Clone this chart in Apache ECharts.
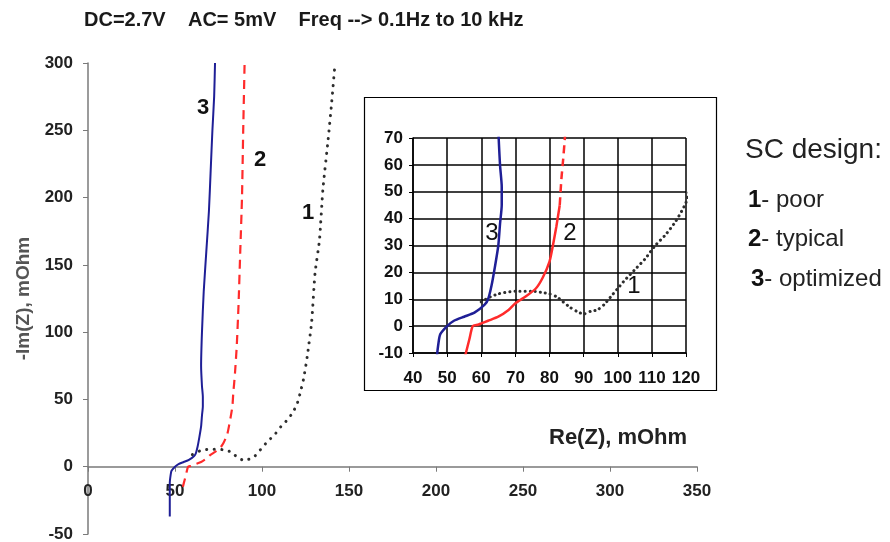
<!DOCTYPE html>
<html>
<head>
<meta charset="utf-8">
<script src="https://cdn.jsdelivr.net/npm/echarts@6/dist/echarts.min.js"></script>
<style>
  html, body { margin: 0; padding: 0; background: #fff; overflow: hidden; }
  #chart { width: 890px; height: 542px; }
</style>
</head>
<body>
<div id="chart"></div>
<script>
// ---------- DATA ----------
// Curve 3 (optimized) — Re(Z), -Im(Z) in mOhm
const reC3 = [47, 47, 47, 47.5, 48, 50, 52, 55, 58, 61, 62, 63, 64, 65, 65.5, 66, 66, 65.5, 65, 65.5, 66.5, 68, 69.5, 70.5, 71.5, 72.5, 73];
const imC3 = [-37, -25, -12, -6, -3, 0, 2, 3.5, 5, 8, 10, 15, 22, 30, 38, 45, 52, 60, 75, 100, 130, 160, 190, 220, 250, 275, 300];
// Curve 2 (typical)
const reC2 = [54.5, 55.5, 56.5, 57.5, 59, 60, 62, 65, 68, 70, 73, 76, 78, 80, 81, 82, 83, 83.5, 84, 84.5, 85.5, 86.5, 87.5, 88.5, 89.2, 90];
const imC2 = [-15, -10, -5, 0, 0.5, 1, 2, 3.5, 6, 8.5, 11, 14, 18, 24, 30, 37, 45, 55, 62, 70, 90, 120, 160, 200, 250, 300];
// Curve 1 (poor)
const reC1 = [60, 62, 65, 70, 75, 78, 80, 82, 84, 86, 88, 90, 92, 94, 96, 98, 100, 102, 105, 108, 111, 114, 117, 120, 122, 124, 126, 128.5, 130.5, 133, 135, 138, 140, 142];
const imC1 = [9, 10.5, 12, 13, 13, 12.5, 12, 11, 9, 7, 5.5, 4.5, 5.5, 6, 8, 11, 14, 17, 21, 25, 30, 34, 39, 46, 55, 66, 82, 107, 144, 168, 206, 243, 270, 300];
// index of curve 2 where the inset line style switches from solid to dashed
const c2SolidEnd = 16;

// Axis ticks
const mainXTicks = [0, 50, 100, 150, 200, 250, 300, 350];
const mainYTicks = [-50, 0, 50, 100, 150, 200, 250, 300];
const insetXTicks = [40, 50, 60, 70, 80, 90, 100, 110, 120];
const insetYTicks = [-10, 0, 10, 20, 30, 40, 50, 60, 70];

// Texts
const titleText = 'DC=2.7V    AC= 5mV    Freq --> 0.1Hz to 10 kHz';
const xName = 'Re(Z), mOhm';
const yName = '-Im(Z), mOhm';
const legendTitle = 'SC design:';
const legendItems = [['1', '- poor'], ['2', '- typical'], ['3', '- optimized']];

// ---------- BUILD ----------
const zip = (a, b) => a.map((v, i) => [v, b[i]]);
const c3 = zip(reC3, imC3);
const c2 = zip(reC2, imC2);
const c1 = zip(reC1, imC1);

const FONT = '"Liberation Sans", Arial, Helvetica, sans-serif';
const chart = echarts.init(document.getElementById('chart'), null, { renderer: 'canvas' });

const BLUE = '#1f1f96', RED = '#ff2b2b', DOT = '#2e2e2e', AXG = '#7a7a7a';

function range(ticks) {
  return { type: 'value', min: ticks[0], max: ticks[ticks.length - 1], interval: ticks[1] - ticks[0] };
}
const lbl = (size, color, margin) => ({ fontFamily: FONT, fontWeight: 'bold', fontSize: size, color: color, margin: margin });

// main plot: y from -50..300 over 63..534 px; zero line position derived from the axis range
const MAIN_TOP = 63, MAIN_BOT = 534;
const yMax = mainYTicks[mainYTicks.length - 1], yMin = mainYTicks[0];
const zeroPx = MAIN_TOP + (MAIN_BOT - MAIN_TOP) * yMax / (yMax - yMin);

const option = {
  backgroundColor: '#ffffff',
  animation: false,
  title: {
    text: titleText, left: 84, top: 10, padding: 0,
    textStyle: { fontFamily: FONT, fontWeight: 'bold', fontSize: 20, color: '#1a1a1a' }
  },
  grid: [
    { left: 88, right: 890 - 697, top: MAIN_TOP, bottom: 542 - MAIN_BOT, containLabel: false, outerBoundsMode: 'none' },
    { left: 413, right: 890 - 686, top: 138, bottom: 542 - 353, containLabel: false, outerBoundsMode: 'none', z: 10 },
    // helper grid carrying the horizontal Re(Z) axis on the zero line
    { left: 88, right: 890 - 697, top: MAIN_TOP, bottom: 542 - zeroPx, containLabel: false, outerBoundsMode: 'none' }
  ],
  xAxis: [
    Object.assign(range(mainXTicks), { gridIndex: 0, show: false }),
    Object.assign(range(insetXTicks), {
      gridIndex: 1,
      axisLine: { onZero: false, lineStyle: { color: '#000', width: 1.5 } },
      axisTick: { show: true, length: 4, lineStyle: { color: '#000' } },
      axisLabel: lbl(17, '#111', 17),
      splitLine: { show: true, lineStyle: { color: '#000', width: 1.5 } }
    }),
    Object.assign(range(mainXTicks), {
      gridIndex: 2, position: 'bottom',
      axisLine: { onZero: false, lineStyle: { color: AXG, width: 1.5 } },
      axisTick: { show: true, length: 5, lineStyle: { color: AXG } },
      axisLabel: lbl(17, '#222', 16),
      splitLine: { show: false }
    })
  ],
  yAxis: [
    Object.assign(range(mainYTicks), {
      gridIndex: 0,
      name: yName, nameLocation: 'middle', nameGap: 44, nameRotate: 90,
      nameTextStyle: { fontFamily: FONT, fontWeight: 'bold', fontSize: 19, color: '#555' },
      axisLine: { show: true, onZero: false, lineStyle: { color: AXG, width: 1.5 } },
      axisTick: { show: true, length: 5, lineStyle: { color: AXG } },
      axisLabel: lbl(17, '#222', 15),
      splitLine: { show: false }
    }),
    Object.assign(range(insetYTicks), {
      gridIndex: 1,
      axisLine: { show: true, onZero: false, lineStyle: { color: '#000', width: 1.5 } },
      axisTick: { show: true, length: 4, lineStyle: { color: '#000' } },
      axisLabel: lbl(17, '#111', 10),
      splitLine: { show: true, lineStyle: { color: '#000', width: 1.5 } }
    }),
    { type: 'value', gridIndex: 2, min: 0, max: yMax, show: false }
  ],
  series: [
    // main chart
    { type: 'line', xAxisIndex: 0, yAxisIndex: 0, data: c1, showSymbol: false, smooth: 0.2, z: 3,
      lineStyle: { color: DOT, width: 3, type: [0.1, 7.5], cap: 'round' } },
    { type: 'line', xAxisIndex: 0, yAxisIndex: 0, data: c2, showSymbol: false, smooth: 0.2, z: 4,
      lineStyle: { color: RED, width: 2.2, type: [9, 6] } },
    { type: 'line', xAxisIndex: 0, yAxisIndex: 0, data: c3, showSymbol: false, smooth: 0.2, z: 5,
      lineStyle: { color: BLUE, width: 2 } },
    // inset
    { type: 'line', xAxisIndex: 1, yAxisIndex: 1, data: c1, showSymbol: false, smooth: 0.2, z: 12, clip: true,
      lineStyle: { color: DOT, width: 3, type: [0.1, 5], cap: 'round' } },
    { type: 'line', xAxisIndex: 1, yAxisIndex: 1, data: c2.slice(0, c2SolidEnd + 1), showSymbol: false, smooth: 0.2, z: 13, clip: true,
      lineStyle: { color: RED, width: 2.5 } },
    { type: 'line', xAxisIndex: 1, yAxisIndex: 1, data: c2.slice(c2SolidEnd), showSymbol: false, smooth: 0.2, z: 13, clip: true,
      lineStyle: { color: RED, width: 2.5, type: [8, 5] } },
    { type: 'line', xAxisIndex: 1, yAxisIndex: 1, data: c3, showSymbol: false, smooth: 0.2, z: 14, clip: true,
      lineStyle: { color: BLUE, width: 2.5 } }
  ],
  graphic: [
    { type: 'rect', z: 0, shape: { x: 364.5, y: 97.5, width: 352, height: 293 },
      style: { fill: '#fff', stroke: '#000', lineWidth: 1.2 } },
    { type: 'text', x: 549, y: 438, z: 20,
      style: { text: xName, fontFamily: FONT, fontWeight: 'bold', fontSize: 22, fill: '#222', verticalAlign: 'middle' } },
    // curve numbers, main chart
    { type: 'text', x: 203, y: 108, z: 20, style: { text: '3', fontFamily: FONT, fontWeight: 'bold', fontSize: 22, fill: '#111', align: 'center', verticalAlign: 'middle' } },
    { type: 'text', x: 260, y: 160, z: 20, style: { text: '2', fontFamily: FONT, fontWeight: 'bold', fontSize: 22, fill: '#111', align: 'center', verticalAlign: 'middle' } },
    { type: 'text', x: 308, y: 213, z: 20, style: { text: '1', fontFamily: FONT, fontWeight: 'bold', fontSize: 22, fill: '#111', align: 'center', verticalAlign: 'middle' } },
    // curve numbers, inset
    { type: 'text', x: 492, y: 233, z: 20, style: { text: '3', fontFamily: FONT, fontSize: 24, fill: '#111', align: 'center', verticalAlign: 'middle' } },
    { type: 'text', x: 570, y: 233, z: 20, style: { text: '2', fontFamily: FONT, fontSize: 24, fill: '#111', align: 'center', verticalAlign: 'middle' } },
    { type: 'text', x: 634, y: 286, z: 20, style: { text: '1', fontFamily: FONT, fontSize: 24, fill: '#111', align: 'center', verticalAlign: 'middle' } },
    // legend block
    { type: 'text', x: 745, y: 150, z: 20, style: { text: legendTitle, fontFamily: FONT, fontSize: 28, fill: '#222', verticalAlign: 'middle' } }
  ].concat(legendItems.map((it, i) => ({
    type: 'text', x: 748 + (i === 2 ? 3 : 0), y: 200 + i * 39.5, z: 20,
    style: {
      text: '{b|' + it[0] + '}{n|' + it[1] + '}', verticalAlign: 'middle',
      rich: {
        b: { fontFamily: FONT, fontWeight: 'bold', fontSize: 24, fill: '#111', color: '#111' },
        n: { fontFamily: FONT, fontSize: 24, fill: '#222', color: '#222' }
      }
    }
  })))
};
chart.setOption(option);
</script>
</body>
</html>
